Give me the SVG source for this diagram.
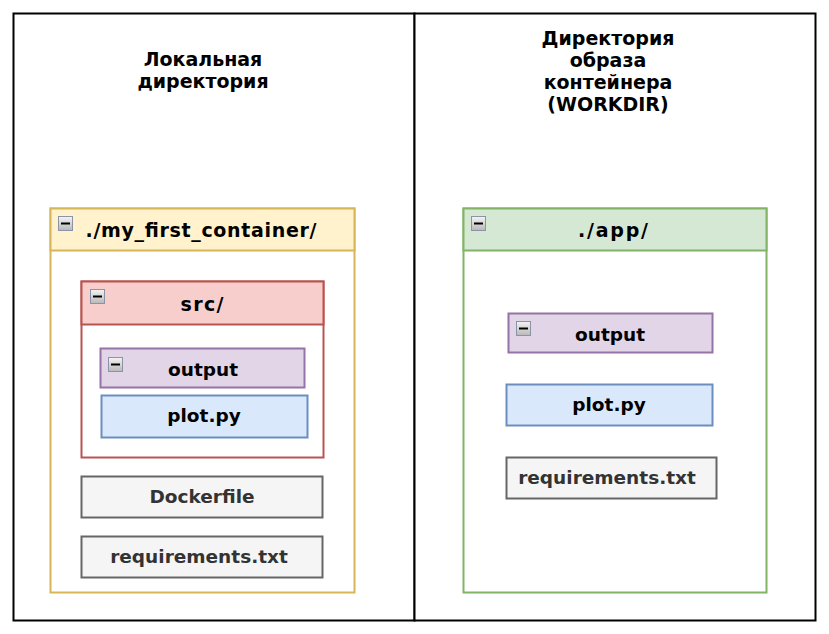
<svg xmlns="http://www.w3.org/2000/svg" width="829" height="634" viewBox="0 0 829 634">
<defs>
<linearGradient id="ig" x1="0" y1="0" x2="0" y2="1">
<stop offset="0" stop-color="#f4f4f4"/>
<stop offset="1" stop-color="#b8b8b8"/>
</linearGradient>
<g id="icon">
<rect x="0.5" y="0.5" width="14" height="14" fill="url(#ig)" stroke="#8a94a6" stroke-width="1"/>
<rect x="3" y="6.5" width="9" height="2" fill="#000"/>
</g>
</defs>
<style>
text{font-family:"DejaVu Sans","Verdana",sans-serif;font-weight:bold;font-size:18.5px;text-anchor:middle;fill:#000}
.grey{fill:#333333}
.t{font-size:19px}
.h{font-size:19px}
</style>
<rect width="829" height="634" fill="#fff"/>
<g id="panel-left">
<rect x="13.5" y="13.5" width="401" height="607" fill="#fff" stroke="#000" stroke-width="2"/>
<text class="t" x="203" y="66">Локальная</text>
<text class="t" x="203" y="88">директория</text>
</g>
<g id="panel-right">
<rect x="414.5" y="13.5" width="401" height="607" fill="#fff" stroke="#000" stroke-width="2"/>
<text class="t" x="608" y="45">Директория</text>
<text class="t" x="608" y="67">образа</text>
<text class="t" x="608" y="89">контейнера</text>
<text class="t" x="608" y="111">(WORKDIR)</text>
</g>
<g id="my_first_container">
<rect x="50.5" y="208.5" width="304" height="384" fill="#fff" stroke="#d6b656" stroke-width="2"/>
<rect x="50.5" y="208.5" width="304" height="42" fill="#fff2cc" stroke="#d6b656" stroke-width="2"/>
<use href="#icon" x="58" y="216"/>
<text class="h" x="201" y="237" textLength="231" lengthAdjust="spacing">./my_first_container/</text>
</g>
<g id="src">
<rect x="81.5" y="281.5" width="242" height="176" fill="#fff" stroke="#b85450" stroke-width="2"/>
<rect x="81.5" y="281.5" width="242" height="43" fill="#f8cecc" stroke="#b85450" stroke-width="2"/>
<use href="#icon" x="90" y="289"/>
<text class="h" x="202" y="311" textLength="43" lengthAdjust="spacing">src/</text>
</g>
<g id="output-left">
<rect x="100.5" y="348.5" width="204" height="39" fill="#e1d5e7" stroke="#9673a6" stroke-width="2"/>
<use href="#icon" x="108" y="357"/>
<text x="203" y="376">output</text>
</g>
<g id="plot-left">
<rect x="101.5" y="395.5" width="206" height="42" fill="#dae8fc" stroke="#6c8ebf" stroke-width="2"/>
<text x="204" y="422">plot.py</text>
</g>
<g id="dockerfile">
<rect x="81.5" y="476.5" width="241" height="41" fill="#f5f5f5" stroke="#666666" stroke-width="2"/>
<text class="grey" x="202" y="503">Dockerfile</text>
</g>
<g id="requirements-left">
<rect x="81.5" y="536.5" width="241" height="41" fill="#f5f5f5" stroke="#666666" stroke-width="2"/>
<text class="grey" x="199" y="563">requirements.txt</text>
</g>
<g id="app">
<rect x="463.5" y="208.5" width="303" height="384" fill="#fff" stroke="#82b366" stroke-width="2"/>
<rect x="463.5" y="208.5" width="303" height="42" fill="#d5e8d4" stroke="#82b366" stroke-width="2"/>
<use href="#icon" x="471" y="216"/>
<text class="h" x="613" y="237" textLength="70" lengthAdjust="spacing">./app/</text>
</g>
<g id="output-right">
<rect x="508.5" y="313.5" width="204" height="39" fill="#e1d5e7" stroke="#9673a6" stroke-width="2"/>
<use href="#icon" x="516" y="321"/>
<text x="610" y="341">output</text>
</g>
<g id="plot-right">
<rect x="506.5" y="384.5" width="206" height="41" fill="#dae8fc" stroke="#6c8ebf" stroke-width="2"/>
<text x="609" y="411">plot.py</text>
</g>
<g id="requirements-right">
<rect x="506.5" y="457.5" width="210" height="41" fill="#f5f5f5" stroke="#666666" stroke-width="2"/>
<text class="grey" x="607" y="484">requirements.txt</text>
</g>
<g id="connectors"></g>
</svg>
